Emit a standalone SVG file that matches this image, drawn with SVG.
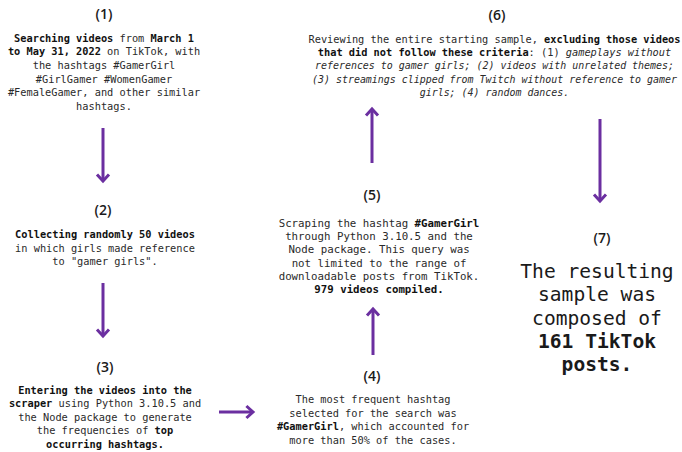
<svg xmlns="http://www.w3.org/2000/svg" width="682" height="452" viewBox="0 0 682 452">
<style>
.h{font-family:"Open Sans","DejaVu Sans",sans-serif;font-size:14px;font-weight:600;fill:#1a1a1a;text-anchor:middle}
.t{font-family:"DejaVu Sans Mono","Liberation Mono",monospace;font-size:10.3px;fill:#2a2a2a;text-anchor:middle}
.b{font-weight:bold;fill:#111}
.i{font-style:italic}
.it{font-size:9.95px}
.big{font-size:19.6px;fill:#1a1a1a}
.arrow{stroke:#6b2fa0;stroke-width:3;fill:none}
</style>
<defs>
<marker id="head" markerUnits="userSpaceOnUse" markerWidth="14" markerHeight="14" orient="auto" overflow="visible">
<path d="M-5.5,-5 L0,0 L-5.5,5" fill="none" stroke="#6b2fa0" stroke-width="3" stroke-linejoin="miter" stroke-linecap="square"/>
</marker>
</defs>
<rect width="682" height="452" fill="#ffffff"/>

<g id="node1">
<text class="h" x="104" y="19">(1)</text>
<text class="t" x="104" y="41.5"><tspan class="b">Searching videos</tspan> from <tspan class="b">March 1</tspan></text>
<text class="t" x="104" y="55"><tspan class="b">to May 31, 2022</tspan> on TikTok, with</text>
<text class="t" x="104" y="68.5">the hashtags #GamerGirl</text>
<text class="t" x="104" y="82.5">#GirlGamer #WomenGamer</text>
<text class="t" x="104" y="96">#FemaleGamer, and other similar</text>
<text class="t" x="104" y="109.5">hashtags.</text>
</g>

<g id="node2">
<text class="h" x="103" y="215">(2)</text>
<text class="t" x="105" y="238"><tspan class="b">Collecting randomly 50 videos</tspan></text>
<text class="t" x="105" y="251.5">in which girls made reference</text>
<text class="t" x="105" y="265">to "gamer girls".</text>
</g>

<g id="node3">
<text class="h" x="105" y="372">(3)</text>
<text class="t" x="105" y="393.5"><tspan class="b">Entering the videos into the</tspan></text>
<text class="t" x="105" y="407"><tspan class="b">scraper</tspan> using Python 3.10.5 and</text>
<text class="t" x="105" y="420.5">the Node package to generate</text>
<text class="t" x="105" y="434">the frequencies of <tspan class="b">top</tspan></text>
<text class="t" x="105" y="447.5"><tspan class="b">occurring hashtags.</tspan></text>
</g>

<g id="node4">
<text class="h" x="372" y="381">(4)</text>
<text class="t" x="373" y="403">The most frequent hashtag</text>
<text class="t" x="373" y="416.5">selected for the search was</text>
<text class="t" x="373" y="430"><tspan class="b">#GamerGirl</tspan>, which accounted for</text>
<text class="t" x="373" y="443.5">more than 50% of the cases.</text>
</g>

<g id="node5">
<text class="h" x="372" y="200">(5)</text>
<text class="t" x="379" y="226.5" style="font-size:10.75px">Scraping the hashtag <tspan class="b">#GamerGirl</tspan></text>
<text class="t" x="379" y="240" style="font-size:10.75px">through Python 3.10.5 and the</text>
<text class="t" x="379" y="253.3" style="font-size:10.75px">Node package. This query was</text>
<text class="t" x="379" y="266.7" style="font-size:10.75px">not limited to the range of</text>
<text class="t" x="379" y="280" style="font-size:10.75px">downloadable posts from TikTok.</text>
<text class="t" x="379" y="293.3" style="font-size:10.75px"><tspan class="b">979 videos compiled.</tspan></text>
</g>

<g id="node6">
<text class="h" x="497" y="20">(6)</text>
<text class="t" x="494.5" y="42.5">Reviewing the entire starting sample, <tspan class="b">excluding those videos</tspan></text>
<text class="t" x="494.5" y="56"><tspan class="b">that did not follow these criteria</tspan>: (1) <tspan class="i">gameplays without</tspan></text>
<text class="t i it" x="494.5" y="69.3">references to gamer girls; (2) videos with unrelated themes;</text>
<text class="t i it" x="494.5" y="82.7">(3) streamings clipped from Twitch without reference to gamer</text>
<text class="t i it" x="494.5" y="96">girls; (4) random dances.</text>
</g>

<g id="node7">
<text class="h" x="602" y="243">(7)</text>
<text class="t big" x="597" y="278">The resulting</text>
<text class="t big" x="597" y="301.3">sample was</text>
<text class="t big" x="597" y="324.7">composed of</text>
<text class="t big b" x="597" y="348">161 TikTok</text>
<text class="t big b" x="597" y="371.3">posts.</text>
</g>

<g id="connectors">
<line class="arrow" x1="103" y1="128" x2="103" y2="181" marker-end="url(#head)"/>
<line class="arrow" x1="103" y1="283" x2="103" y2="336" marker-end="url(#head)"/>
<line class="arrow" x1="219" y1="412" x2="253" y2="412" marker-end="url(#head)"/>
<line class="arrow" x1="373" y1="355" x2="373" y2="309" marker-end="url(#head)"/>
<line class="arrow" x1="372" y1="163" x2="372" y2="109" marker-end="url(#head)"/>
<line class="arrow" x1="600" y1="119" x2="600" y2="201" marker-end="url(#head)"/>
</g>
</svg>
